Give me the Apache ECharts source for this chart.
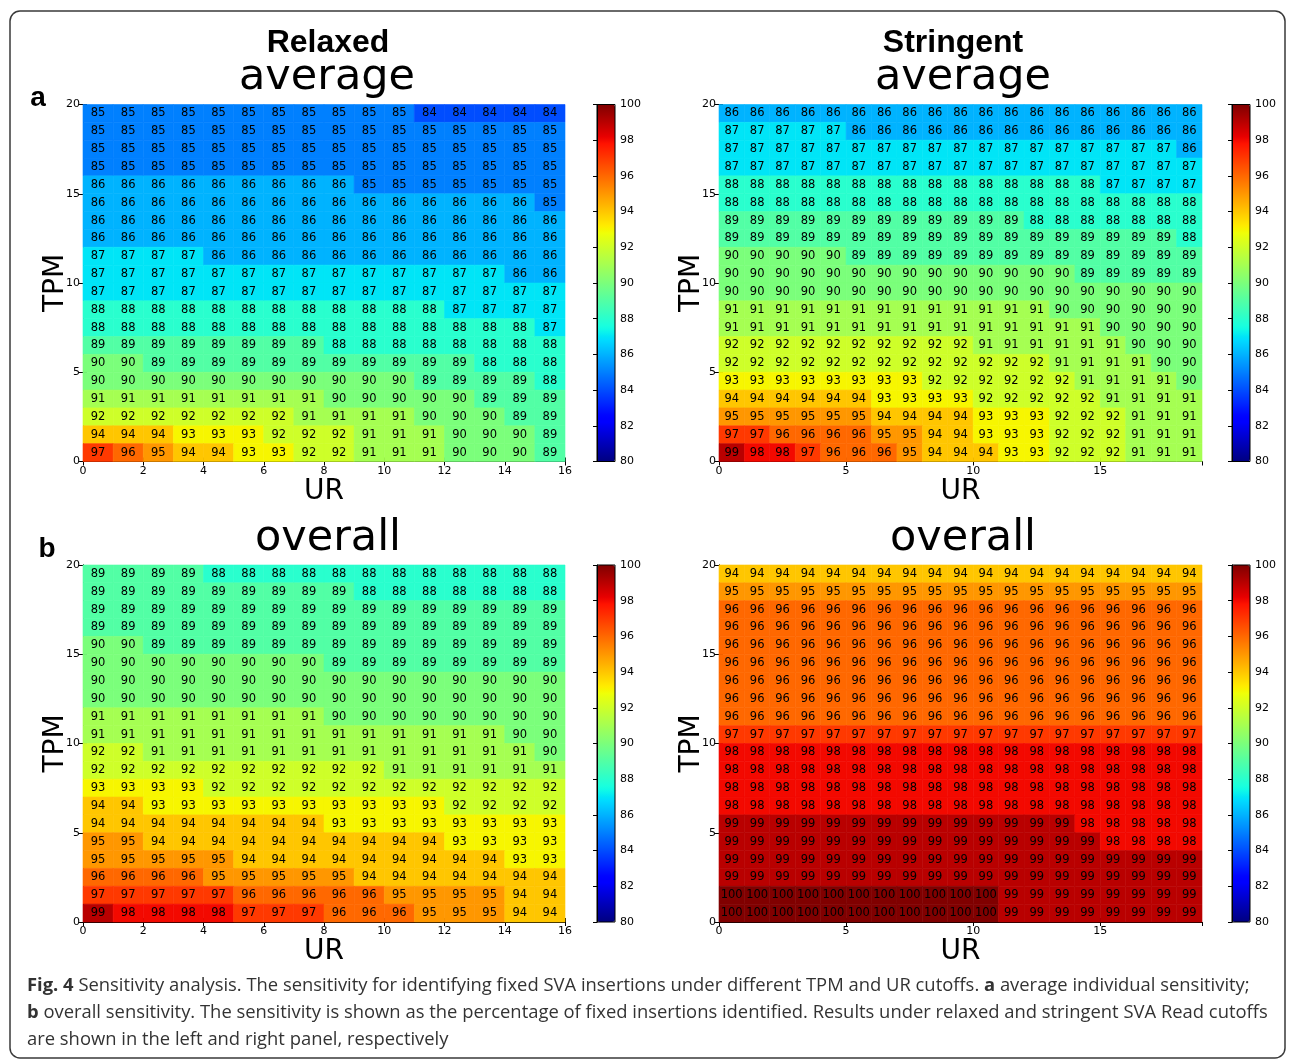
<!DOCTYPE html>
<html><head><meta charset="utf-8">
<script src="https://cdn.jsdelivr.net/npm/echarts@6/dist/echarts.min.js"></script>
<style>html,body{margin:0;padding:0;background:#fff}#c{width:1295px;height:1064px}</style>
</head><body><div id="c"></div><script>
// ---------- DATA (rows listed from top, TPM 19, down to bottom, TPM 0) ----------
const relaxedAverage = [
 [85,85,85,85,85,85,85,85,85,85,85,84,84,84,84,84],
 [85,85,85,85,85,85,85,85,85,85,85,85,85,85,85,85],
 [85,85,85,85,85,85,85,85,85,85,85,85,85,85,85,85],
 [85,85,85,85,85,85,85,85,85,85,85,85,85,85,85,85],
 [86,86,86,86,86,86,86,86,86,85,85,85,85,85,85,85],
 [86,86,86,86,86,86,86,86,86,86,86,86,86,86,86,85],
 [86,86,86,86,86,86,86,86,86,86,86,86,86,86,86,86],
 [86,86,86,86,86,86,86,86,86,86,86,86,86,86,86,86],
 [87,87,87,87,86,86,86,86,86,86,86,86,86,86,86,86],
 [87,87,87,87,87,87,87,87,87,87,87,87,87,87,86,86],
 [87,87,87,87,87,87,87,87,87,87,87,87,87,87,87,87],
 [88,88,88,88,88,88,88,88,88,88,88,88,87,87,87,87],
 [88,88,88,88,88,88,88,88,88,88,88,88,88,88,88,87],
 [89,89,89,89,89,89,89,89,88,88,88,88,88,88,88,88],
 [90,90,89,89,89,89,89,89,89,89,89,89,89,88,88,88],
 [90,90,90,90,90,90,90,90,90,90,90,89,89,89,89,88],
 [91,91,91,91,91,91,91,91,90,90,90,90,90,89,89,89],
 [92,92,92,92,92,92,92,91,91,91,91,90,90,90,89,89],
 [94,94,94,93,93,93,92,92,92,91,91,91,90,90,90,89],
 [97,96,95,94,94,93,93,92,92,91,91,91,90,90,90,89]
];
const stringentAverage = [
 [86,86,86,86,86,86,86,86,86,86,86,86,86,86,86,86,86,86,86],
 [87,87,87,87,87,86,86,86,86,86,86,86,86,86,86,86,86,86,86],
 [87,87,87,87,87,87,87,87,87,87,87,87,87,87,87,87,87,87,86],
 [87,87,87,87,87,87,87,87,87,87,87,87,87,87,87,87,87,87,87],
 [88,88,88,88,88,88,88,88,88,88,88,88,88,88,88,87,87,87,87],
 [88,88,88,88,88,88,88,88,88,88,88,88,88,88,88,88,88,88,88],
 [89,89,89,89,89,89,89,89,89,89,89,89,88,88,88,88,88,88,88],
 [89,89,89,89,89,89,89,89,89,89,89,89,89,89,89,89,89,89,88],
 [90,90,90,90,90,89,89,89,89,89,89,89,89,89,89,89,89,89,89],
 [90,90,90,90,90,90,90,90,90,90,90,90,90,90,89,89,89,89,89],
 [90,90,90,90,90,90,90,90,90,90,90,90,90,90,90,90,90,90,90],
 [91,91,91,91,91,91,91,91,91,91,91,91,91,90,90,90,90,90,90],
 [91,91,91,91,91,91,91,91,91,91,91,91,91,91,91,90,90,90,90],
 [92,92,92,92,92,92,92,92,92,92,91,91,91,91,91,91,90,90,90],
 [92,92,92,92,92,92,92,92,92,92,92,92,92,91,91,91,91,90,90],
 [93,93,93,93,93,93,93,93,92,92,92,92,92,92,91,91,91,91,90],
 [94,94,94,94,94,94,93,93,93,93,92,92,92,92,92,91,91,91,91],
 [95,95,95,95,95,95,94,94,94,94,93,93,93,92,92,92,91,91,91],
 [97,97,96,96,96,96,95,95,94,94,93,93,93,92,92,92,91,91,91],
 [99,98,98,97,96,96,96,95,94,94,94,93,93,92,92,92,91,91,91]
];
const relaxedOverall = [
 [89,89,89,89,88,88,88,88,88,88,88,88,88,88,88,88],
 [89,89,89,89,89,89,89,89,89,88,88,88,88,88,88,88],
 [89,89,89,89,89,89,89,89,89,89,89,89,89,89,89,89],
 [89,89,89,89,89,89,89,89,89,89,89,89,89,89,89,89],
 [90,90,89,89,89,89,89,89,89,89,89,89,89,89,89,89],
 [90,90,90,90,90,90,90,90,89,89,89,89,89,89,89,89],
 [90,90,90,90,90,90,90,90,90,90,90,90,90,90,90,90],
 [90,90,90,90,90,90,90,90,90,90,90,90,90,90,90,90],
 [91,91,91,91,91,91,91,91,90,90,90,90,90,90,90,90],
 [91,91,91,91,91,91,91,91,91,91,91,91,91,91,90,90],
 [92,92,91,91,91,91,91,91,91,91,91,91,91,91,91,90],
 [92,92,92,92,92,92,92,92,92,92,91,91,91,91,91,91],
 [93,93,93,93,92,92,92,92,92,92,92,92,92,92,92,92],
 [94,94,93,93,93,93,93,93,93,93,93,93,92,92,92,92],
 [94,94,94,94,94,94,94,94,93,93,93,93,93,93,93,93],
 [95,95,94,94,94,94,94,94,94,94,94,94,93,93,93,93],
 [95,95,95,95,95,94,94,94,94,94,94,94,94,94,93,93],
 [96,96,96,96,95,95,95,95,95,94,94,94,94,94,94,94],
 [97,97,97,97,97,96,96,96,96,96,95,95,95,95,94,94],
 [99,98,98,98,98,97,97,97,96,96,96,95,95,95,94,94]
];
const stringentOverall = [
 [94,94,94,94,94,94,94,94,94,94,94,94,94,94,94,94,94,94,94],
 [95,95,95,95,95,95,95,95,95,95,95,95,95,95,95,95,95,95,95],
 [96,96,96,96,96,96,96,96,96,96,96,96,96,96,96,96,96,96,96],
 [96,96,96,96,96,96,96,96,96,96,96,96,96,96,96,96,96,96,96],
 [96,96,96,96,96,96,96,96,96,96,96,96,96,96,96,96,96,96,96],
 [96,96,96,96,96,96,96,96,96,96,96,96,96,96,96,96,96,96,96],
 [96,96,96,96,96,96,96,96,96,96,96,96,96,96,96,96,96,96,96],
 [96,96,96,96,96,96,96,96,96,96,96,96,96,96,96,96,96,96,96],
 [96,96,96,96,96,96,96,96,96,96,96,96,96,96,96,96,96,96,96],
 [97,97,97,97,97,97,97,97,97,97,97,97,97,97,97,97,97,97,97],
 [98,98,98,98,98,98,98,98,98,98,98,98,98,98,98,98,98,98,98],
 [98,98,98,98,98,98,98,98,98,98,98,98,98,98,98,98,98,98,98],
 [98,98,98,98,98,98,98,98,98,98,98,98,98,98,98,98,98,98,98],
 [98,98,98,98,98,98,98,98,98,98,98,98,98,98,98,98,98,98,98],
 [99,99,99,99,99,99,99,99,99,99,99,99,99,99,98,98,98,98,98],
 [99,99,99,99,99,99,99,99,99,99,99,99,99,99,99,98,98,98,98],
 [99,99,99,99,99,99,99,99,99,99,99,99,99,99,99,99,99,99,99],
 [99,99,99,99,99,99,99,99,99,99,99,99,99,99,99,99,99,99,99],
 [100,100,100,100,100,100,100,100,100,100,100,99,99,99,99,99,99,99,99],
 [100,100,100,100,100,100,100,100,100,100,100,99,99,99,99,99,99,99,99]
];
const panelTitles = ['average', 'average', 'overall', 'overall'];
const columnTitles = ['Relaxed', 'Stringent'];
const panelLetters = ['a', 'b'];
const colorbarRange = [80, 100];
const xTickStepRelaxed = 2, xTickStepStringent = 5, yTickStep = 5, cbTickStep = 2;
const captionLines = [
 '{b|Fig. 4} Sensitivity analysis. The sensitivity for identifying fixed SVA insertions under different TPM and UR cutoffs. {b|a} average individual sensitivity;',
 '{b|b} overall sensitivity. The sensitivity is shown as the percentage of fixed insertions identified. Results under relaxed and stringent SVA Read cutoffs',
 'are shown in the left and right panel, respectively'
];

// ---------- jet colormap ----------
function interp(pts, t){ for(let i=1;i<pts.length;i++){ if(t<=pts[i][0]){ const a=pts[i-1],b=pts[i]; return a[1]+(b[1]-a[1])*(t-a[0])/(b[0]-a[0]); } } return pts[pts.length-1][1]; }
const JR=[[0,0],[0.35,0],[0.66,1],[0.89,1],[1,0.5]];
const JG=[[0,0],[0.125,0],[0.375,1],[0.64,1],[0.91,0],[1,0]];
const JB=[[0,0.5],[0.11,1],[0.34,1],[0.65,0],[1,0]];
const jet=[];
for(let i=0;i<=100;i++){ const t=i/100; jet.push('rgb('+Math.round(255*interp(JR,t))+','+Math.round(255*interp(JG,t))+','+Math.round(255*interp(JB,t))+')'); }

function toCells(rows){ const out=[]; const n=rows.length; rows.forEach((r,i)=>r.forEach((v,j)=>out.push([j, n-1-i, v]))); return out; }

const panels = [
 {data: relaxedAverage, left: 83, top: 104.5, width: 482, step: xTickStepRelaxed, cb: 597},
 {data: stringentAverage, left: 719, top: 104.5, width: 483, step: xTickStepStringent, cb: 1232},
 {data: relaxedOverall, left: 83, top: 565, width: 482, step: xTickStepRelaxed, cb: 597},
 {data: stringentOverall, left: 719, top: 565, width: 483, step: xTickStepStringent, cb: 1232}
];
const H = 357;
const FONT = '"DejaVu Sans", sans-serif';
const lineBlack = {show: true, lineStyle: {color: '#000', width: 1}};

const grid=[], xAxis=[], yAxis=[], series=[], visualMap=[];
panels.forEach((p,i)=>{
  grid.push({left: p.left, top: p.top, width: p.width, height: H, containLabel: false});
  const ncol = p.data[0].length, nrow = p.data.length;
  xAxis.push({type:'value', gridIndex:i, min:0, max:ncol, interval:p.step, position:'bottom',
    name:'UR', nameLocation:'middle', nameGap:16, nameMoveOverlap:false, nameTextStyle:{fontFamily:FONT, fontSize:28, color:'#000'},
    axisLine: lineBlack, axisTick:{inside:true, length:4, lineStyle:{color:'#000'}},
    axisLabel:{fontFamily:FONT, fontSize:11, color:'#000', margin:4, showMaxLabel: ncol % p.step === 0},
    splitLine:{show:false}});
  yAxis.push({type:'value', gridIndex:i, min:0, max:nrow, interval:yTickStep, position:'left',
    name:'TPM', nameLocation:'middle', nameGap:13, nameMoveOverlap:false, nameTextStyle:{fontFamily:FONT, fontSize:28, color:'#000'},
    axisLine: lineBlack, axisTick:{inside:true, length:4, lineStyle:{color:'#000'}},
    axisLabel:{fontFamily:FONT, fontSize:11, color:'#000', margin:3},
    splitLine:{show:false}});
  series.push({type:'custom', xAxisIndex:i, yAxisIndex:i, data: toCells(p.data), z: 2,
    renderItem:(params, api)=>{
      const x=api.value(0), y=api.value(1), v=api.value(2);
      const a=api.coord([x, y+1]), b=api.coord([x+1, y]);
      const c=api.visual('color');
      return {type:'group', children:[
        {type:'rect', shape:{x:a[0], y:a[1], width:b[0]-a[0], height:b[1]-a[1]}, style:{fill:c, stroke:c, lineWidth:0.6}},
        {type:'text', z2: 10, style:{text:String(v), x:(a[0]+b[0])/2, y:(a[1]+b[1])/2, align:'center', verticalAlign:'middle', fill:'#000', fontSize:11.5, fontFamily:FONT}}
      ]};
    }});
  visualMap.push({type:'continuous', seriesIndex:i, min:colorbarRange[0], max:colorbarRange[1], dimension:2,
    inRange:{color: jet}, calculable:false, itemWidth:18, itemHeight:H, left:p.cb, top:p.top, padding:0,
    orient:'vertical', hoverLink:false, z: 1});
});
// top / right tick-only axes
panels.forEach((p,i)=>{
  const ncol = p.data[0].length, nrow = p.data.length;
  xAxis.push({type:'value', gridIndex:i, min:0, max:ncol, interval:p.step, position:'top',
    axisLine: lineBlack, axisTick:{inside:true, length:4, lineStyle:{color:'#000'}}, axisLabel:{show:false}, splitLine:{show:false}});
  yAxis.push({type:'value', gridIndex:i, min:0, max:nrow, interval:yTickStep, position:'right',
    axisLine: lineBlack, axisTick:{inside:true, length:4, lineStyle:{color:'#000'}}, axisLabel:{show:false}, splitLine:{show:false}});
});
// colorbar frames and tick labels
panels.forEach((p,i)=>{
  grid.push({left:p.cb, top:p.top, width:18, height:H, show:true, borderColor:'#000', borderWidth:1, backgroundColor:'transparent', z: 10});
  xAxis.push({type:'value', gridIndex:4+i, min:0, max:1, show:false});
  yAxis.push({type:'value', gridIndex:4+i, min:colorbarRange[0], max:colorbarRange[1], interval:cbTickStep, position:'right', z: 10,
    axisLine: lineBlack, axisTick:{inside:true, length:4, lineStyle:{color:'#000'}},
    axisLabel:{fontFamily:FONT, fontSize:11, color:'#000', margin:5}, splitLine:{show:false}});
});

const graphic = [
  {type:'rect', shape:{x:10, y:11, width:1275, height:1047, r:10}, style:{fill:'none', stroke:'#3a3a3a', lineWidth:1.5}, z:0},
  {type:'text', x:328, y:43, style:{text:columnTitles[0], font:'bold 32px "Liberation Sans", Arial, sans-serif', fill:'#000', align:'center', verticalAlign:'middle'}},
  {type:'text', x:953, y:43, style:{text:columnTitles[1], font:'bold 32px "Liberation Sans", Arial, sans-serif', fill:'#000', align:'center', verticalAlign:'middle'}},
  {type:'text', x:327, y:78, style:{text:panelTitles[0], font:'43px "DejaVu Sans"', fill:'#000', align:'center', verticalAlign:'middle'}},
  {type:'text', x:963, y:78, style:{text:panelTitles[1], font:'43px "DejaVu Sans"', fill:'#000', align:'center', verticalAlign:'middle'}},
  {type:'text', x:328, y:539, style:{text:panelTitles[2], font:'43px "DejaVu Sans"', fill:'#000', align:'center', verticalAlign:'middle'}},
  {type:'text', x:963, y:539, style:{text:panelTitles[3], font:'43px "DejaVu Sans"', fill:'#000', align:'center', verticalAlign:'middle'}},
  {type:'text', x:38, y:98, style:{text:panelLetters[0], font:'bold 28px "Liberation Sans", Arial, sans-serif', fill:'#000', align:'center', verticalAlign:'middle'}},
  {type:'text', x:47, y:549, style:{text:panelLetters[1], font:'bold 28px "Liberation Sans", Arial, sans-serif', fill:'#000', align:'center', verticalAlign:'middle'}}
];
captionLines.forEach((t,k)=>{
  graphic.push({type:'text', x:27, y:986+27*k, style:{text:t, fontFamily:'"Open Sans", sans-serif', fontSize:18.4, fill:'#333', align:'left', verticalAlign:'middle',
    rich:{b:{fontFamily:'"Open Sans", sans-serif', fontSize:18.4, fontWeight:'bold', fill:'#333'}}}});
});

const chart = echarts.init(document.getElementById('c'), null, {renderer:'canvas'});
chart.setOption({animation:false, backgroundColor:'#fff', grid, xAxis, yAxis, series, visualMap, graphic});
</script></body></html>
